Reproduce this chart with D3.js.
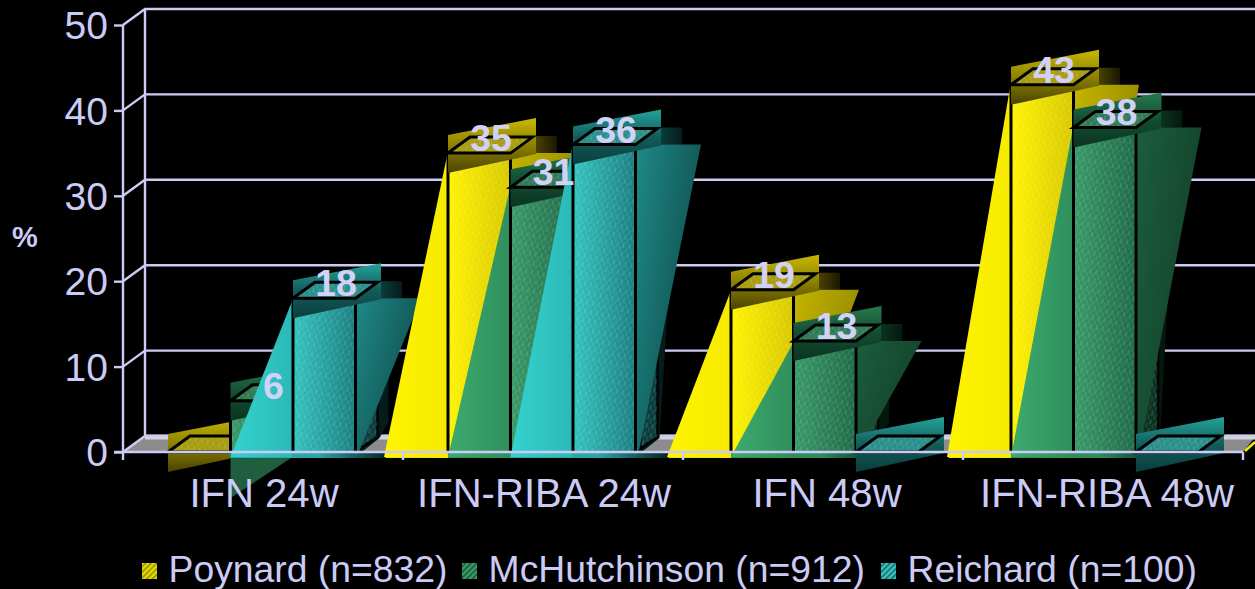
<!DOCTYPE html>
<html><head><meta charset="utf-8">
<script src="https://cdnjs.cloudflare.com/ajax/libs/d3/7.8.5/d3.min.js"></script>
<style>html,body{margin:0;padding:0;background:#000;overflow:hidden}svg{display:block}text{font-family:"Liberation Sans",Arial,sans-serif}</style>
</head><body><svg id="c" width="1255" height="589"></svg>
<script>
const categories = ["IFN 24w", "IFN-RIBA 24w", "IFN 48w", "IFN-RIBA 48w"];
const seriesNames = ["Poynard (n=832)", "McHutchinson (n=912)", "Reichard (n=100)"];
const poynard = [0, 35, 19, 43];
const mcHutchinson = [6, 31, 13, 38];
const reichard = [18, 36, 0, 0];
const yTickValues = [0, 10, 20, 30, 40, 50];
const seriesValues = [poynard, mcHutchinson, reichard];

const axisColor = "#cbcbf6";
const palettes = [
 {tri0:"#fff400",tri1:"#f6ea00",face0:"#fff400",face1:"#d8c800",side0:"#c4b500",side1:"#8f8400",top:"#c8b800",mid:"#8c8000",low:"#4a4200",rh:"#a89c10",dark:"#1a1700",strip:"#f0e400"},
 {tri0:"#3dab6e",tri1:"#2f8f5c",face0:"#3a9a68",face1:"#1f6a48",side0:"#1c5e3e",side1:"#123f2a",top:"#27794f",mid:"#124d31",low:"#0b3321",rh:"#2e7a55",dark:"#05180f",strip:"#2f8f5c"},
 {tri0:"#35d3ce",tri1:"#2bb9b6",face0:"#34c4c0",face1:"#1b7f80",side0:"#1f8a88",side1:"#0e4b4a",top:"#25a39c",mid:"#125c5a",low:"#0b3d3d",rh:"#2a8f8a",dark:"#041c1b",strip:"#2aa8a6"}
];

const svg = d3.select("#c");
const defs = svg.append("defs");
const yScale = d3.scaleLinear().domain([0, 50]).range([452, 25]);
const xOuter = d3.scaleBand().domain(categories).range([123, 1243]);
const xInner = d3.scaleBand().domain(d3.range(3)).range([0, 187.5]);
const groupNudge = [-1, -1, 2, 2];
const leftInset = 46, barW = 62.5, depthX = 22, depthY = 16;

function grad(id, c0, c1, x2, y2, extra){
  const g = defs.append("linearGradient").attr("id", id).attr("x1",0).attr("y1",0).attr("x2",x2).attr("y2",y2);
  g.append("stop").attr("offset",0).attr("stop-color",c0);
  if(extra) g.append("stop").attr("offset",extra[0]).attr("stop-color",extra[1]);
  g.append("stop").attr("offset",1).attr("stop-color",c1);
}
palettes.forEach((p,i)=>{
  grad("tri"+i,p.tri0,p.tri1,1,0);
  grad("face"+i,p.face0,p.face1,1,0);
  grad("side"+i,p.side0,p.side1,1,0.6);
  grad("band"+i,p.top,p.low,0,1,[0.5,p.mid]);
  grad("shadow"+i,p.low,p.dark,1,0);
  grad("strip"+i,p.strip,"#06201c",1,0,[0.55,p.strip]);
  const sw = defs.append("pattern").attr("id","sw"+i).attr("width",4).attr("height",4).attr("patternUnits","userSpaceOnUse").attr("patternTransform","rotate(45)");
  sw.append("rect").attr("width",4).attr("height",4).attr("fill",i===0?"#e4d800":p.face0);
  sw.append("rect").attr("width",1.3).attr("height",4).attr("fill",p.mid);
});
const fleck = defs.append("pattern").attr("id","fleck").attr("width",6).attr("height",9).attr("patternUnits","userSpaceOnUse").attr("patternTransform","rotate(12)");
fleck.append("line").attr("x1",1).attr("x2",1).attr("y1",0).attr("y2",5).attr("stroke","#fff").attr("stroke-opacity",.24).attr("stroke-width",1);
fleck.append("line").attr("x1",4).attr("x2",4).attr("y1",4).attr("y2",9).attr("stroke","#fff").attr("stroke-opacity",.15).attr("stroke-width",1);

const pts = a => a.map(d=>d.join(",")).join(" ");
const y0 = yScale(0), backX = xOuter.range()[0] + depthX, rightEdge = 1255;

// floor
svg.append("polygon").attr("points",pts([[xOuter.range()[0],y0],[backX,y0-depthY+1],[rightEdge,y0-depthY+1],[xOuter.range()[1],y0]])).attr("fill","#8c8c8c");
svg.append("line").attr("x1",backX).attr("x2",rightEdge).attr("y1",y0-depthY+1).attr("y2",y0-depthY+1).attr("stroke","#d4d4d8").attr("stroke-width",5);
svg.append("line").attr("x1",xOuter.range()[1]+2).attr("y1",y0-1).attr("x2",rightEdge).attr("y2",y0-10).attr("stroke","#f4e800").attr("stroke-width",2.5);

// back wall grid
const wall = svg.append("g").attr("stroke",axisColor).attr("stroke-width",2.4).attr("fill","none");
yTickValues.forEach(t=>{
  const yy = yScale(t);
  wall.append("path").attr("d",`M${xOuter.range()[0]},${yy}L${backX},${yy-depthY}L${rightEdge},${yy-depthY}`);
});
wall.append("line").attr("x1",backX).attr("x2",backX).attr("y1",yScale(50)-depthY).attr("y2",y0-depthY);
wall.append("line").attr("x1",xOuter.range()[0]).attr("x2",xOuter.range()[0]).attr("y1",yScale(50)).attr("y2",y0);

// bars
const marks = svg.append("g");
const labelsData = [];
categories.forEach((cat,gi)=>{
  const gx = xOuter(cat) + leftInset + groupNudge[gi];
  seriesValues.forEach((vals,si)=>{
    const v = vals[gi], x = gx + xInner(si), R = x + barW, yv = yScale(v);
    const g = marks.append("g");
    const p = palettes[si];
    const tall = v >= 10;
    if(v > 0){
      if(tall){
        const hatchTop = y0-(y0-yv)*0.6;
        g.append("polygon").attr("points",pts([[R,y0+5],[R+24,y0-14],[R+33,Math.min(yv+150,y0-30)],[R+33,yv+10],[R,yv+10]])).attr("fill",p.dark);
        g.append("polygon").attr("points",pts([[R+4,y0-3],[R+22,y0-15],[R+22,hatchTop]])).attr("fill",p.low).attr("stroke","#000").attr("stroke-width",2.5);
        g.append("polygon").attr("points",pts([[R+4,y0-3],[R+22,y0-15],[R+22,hatchTop]])).attr("fill","url(#fleck)");
        g.append("rect").attr("x",x-barW).attr("y",y0-1).attr("width",barW*2+34).attr("height",7).attr("fill",`url(#strip${si})`);
      }
      // sliver behind band
      g.append("rect").attr("x",x+88).attr("y",yv-17).attr("width",21).attr("height",17).attr("fill",`url(#shadow${si})`);
      // right side wedge
      if(tall) g.append("polygon").attr("points",pts([[R-1,yv],[x+128,yv],[R+3,y0+1],[R-1,y0+4]])).attr("fill",`url(#side${si})`);
      // front face
      g.append("rect").attr("x",x).attr("y",yv).attr("width",barW).attr("height",y0-yv).attr("fill",`url(#face${si})`);
      g.append("rect").attr("x",x).attr("y",yv).attr("width",barW).attr("height",y0-yv).attr("fill","url(#fleck)");
      // left wedge
      const wedgeW = si === 0 ? barW + 1.5 : barW;
      if(tall) g.append("polygon").attr("points",pts([[x-1,yv+3],[x-wedgeW,y0+5],[x-1,y0+5]])).attr("fill",`url(#tri${si})`);
      else g.append("polygon").attr("points",pts([[x,y0+4],[R+1,y0+4],[x,y0+46]])).attr("fill","#1f5f40");
      g.append("path").attr("d",`M${x},${yv}V${y0}M${R},${yv}V${y0}`).attr("stroke","#000").attr("stroke-width",3);
    }
    // sheared top band and top rhombus
    g.append("polygon").attr("points",pts([[x,yv-18],[x+88,yv-35],[x+88,yv+1],[x,yv+20]])).attr("fill",`url(#band${si})`);
    g.append("polygon").attr("points",pts([[x,yv],[x+barW,yv],[x+barW+depthX,yv-depthY],[x+depthX,yv-depthY]])).attr("fill",p.rh);
    g.append("polygon").attr("points",pts([[x,yv],[x+barW,yv],[x+barW+depthX,yv-depthY],[x+depthX,yv-depthY]])).attr("fill","url(#fleck)").attr("stroke","#000").attr("stroke-width",3);
    if(v > 0) labelsData.push({x:x+43,y:yv-2,v});
  });
});

// baseline, ticks
svg.append("line").attr("x1",xOuter.range()[0]-9).attr("x2",xOuter.range()[1]).attr("y1",y0).attr("y2",y0).attr("stroke",axisColor).attr("stroke-width",2.6);
const tickEdges = categories.map(c=>xOuter(c)).concat([xOuter.range()[1]]);
svg.append("g").selectAll("line").data(tickEdges).join("line").attr("x1",d=>d).attr("x2",d=>d).attr("y1",y0).attr("y2",y0+8).attr("stroke",axisColor).attr("stroke-width",2.4);

// y axis
const yAxis = d3.axisLeft(yScale).tickValues(yTickValues).tickSize(9).tickPadding(6);
const yg = svg.append("g").attr("transform",`translate(${xOuter.range()[0]},0)`).call(yAxis);
yg.select(".domain").remove();
yg.selectAll("line").attr("stroke",axisColor).attr("stroke-width",2.4);
yg.selectAll("text").attr("fill",axisColor).attr("font-size",39).attr("font-family",'"Liberation Sans",Arial,sans-serif').attr("dy","0.35em");

// category labels
svg.append("g").selectAll("text").data(categories).join("text")
  .attr("x",(c,i)=>xOuter(c)+xOuter.bandwidth()/2+2+groupNudge[i]).attr("y",507)
  .attr("text-anchor","middle").attr("fill",axisColor).attr("font-size",40.1).text(c=>c);

// value labels
svg.append("g").selectAll("text").data(labelsData).join("text")
  .attr("x",d=>d.x).attr("y",d=>d.y).attr("text-anchor","middle").attr("fill","#d2d2f8")
  .attr("font-size",37.5).attr("font-weight","bold").text(d=>d.v);

// y title
svg.append("text").attr("x",25).attr("y",247).attr("text-anchor","middle").attr("fill",axisColor).attr("font-size",29).attr("font-weight","bold").text("%");

// legend
const legendX = d3.scaleOrdinal().domain(seriesNames).range([142,462,881]);
const leg = svg.append("g").selectAll("g").data(seriesNames).join("g").attr("transform",d=>`translate(${legendX(d)},0)`);
leg.append("rect").attr("x",-1).attr("y",562).attr("width",17).attr("height",18).attr("fill","#000");
leg.append("rect").attr("x",0).attr("y",563).attr("width",15).attr("height",16).attr("fill",(d,i)=>`url(#sw${i})`);
leg.append("text").attr("x",26.6).attr("y",582).attr("fill",axisColor).attr("font-size",37.3).text(d=>d);
</script></body></html>
